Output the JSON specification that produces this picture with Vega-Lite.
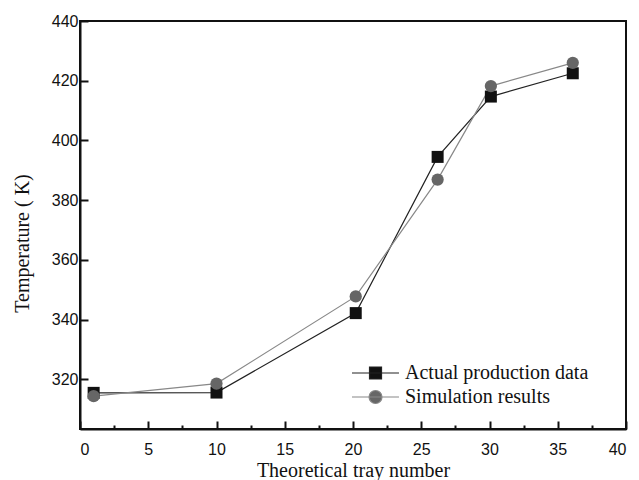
{
  "$schema": "https://vega.github.io/schema/vega-lite/v6.json",
  "width": 546,
  "height": 408,
  "autosize": "none",
  "padding": {"left": 80, "top": 21, "right": 13, "bottom": 51},
  "background": "white",
  "config": {
    "view": {"stroke": "#111", "strokeWidth": 2},
    "axis": {
      "grid": false,
      "domainColor": "#111",
      "domainWidth": 2,
      "tickColor": "#111",
      "tickWidth": 2,
      "labelFont": "Liberation Sans",
      "labelFontSize": 16,
      "labelColor": "#111",
      "titleFont": "Liberation Serif",
      "titleFontSize": 20,
      "titleFontWeight": "normal",
      "titleColor": "#111"
    }
  },
  "data": {
    "values": [
      {"tray": 1, "T": 315.5, "series": "Actual production data"},
      {"tray": 10, "T": 315.6, "series": "Actual production data"},
      {"tray": 20.2, "T": 342.2, "series": "Actual production data"},
      {"tray": 26.2, "T": 394.5, "series": "Actual production data"},
      {"tray": 30.1, "T": 414.7, "series": "Actual production data"},
      {"tray": 36.1, "T": 422.5, "series": "Actual production data"},
      {"tray": 1, "T": 314.4, "series": "Simulation results"},
      {"tray": 10, "T": 318.6, "series": "Simulation results"},
      {"tray": 20.2, "T": 347.8, "series": "Simulation results"},
      {"tray": 26.2, "T": 386.9, "series": "Simulation results"},
      {"tray": 30.1, "T": 418.2, "series": "Simulation results"},
      {"tray": 36.1, "T": 426, "series": "Simulation results"}
    ]
  },
  "resolve": {"axis": {"x": "independent"}},
  "layer": [
    {
      "mark": {"type": "line", "strokeWidth": 1.2},
      "encoding": {
        "x": {
          "field": "tray", "type": "quantitative",
          "scale": {"domain": [0, 40], "nice": false},
          "axis": {
            "orient": "bottom",
            "values": [0, 5, 10, 15, 20, 25, 30, 35, 40],
            "tickSize": -8,
            "labelPadding": 20,
            "title": "Theoretical tray number",
            "titlePadding": 3
          }
        },
        "y": {
          "field": "T", "type": "quantitative",
          "scale": {"domain": [303.4, 440], "nice": false, "zero": false},
          "axis": {
            "values": [320, 340, 360, 380, 400, 420, 440],
            "tickSize": -8,
            "labelPadding": 10,
            "title": "Temperature ( K)",
            "titleY": 222,
            "titlePadding": 19
          }
        },
        "stroke": {
          "field": "series", "type": "nominal",
          "scale": {"domain": ["Actual production data", "Simulation results"], "range": ["#222222", "#888888"]},
          "legend": {
            "orient": "none",
            "legendX": 268,
            "legendY": 342,
            "title": null,
            "padding": 0,
            "symbolSize": 144,
            "symbolStrokeWidth": 1.2,
            "labelFont": "Liberation Serif",
            "labelFontSize": 20,
            "labelColor": "#111",
            "labelOffset": 37,
            "labelLimit": 400,
            "rowPadding": 4,
            "encode": {
              "symbols": {
                "update": {
                  "shape": {"signal": "datum.value === 'Actual production data' ? 'M-1,0H6.83M1.92,-1H3.92V1H1.92Z' : 'M-1,0H6.83M4,0A1.08,1.08 0 1,1 1.84,0A1.08,1.08 0 1,1 4,0Z'"},
                  "fill": {"signal": "datum.value === 'Actual production data' ? '#111111' : '#666666'"},
                  "strokeWidth": {"value": 1.2},
                  "opacity": {"value": 1}
                }
              }
            }
          }
        }
      }
    },
    {
      "transform": [{"filter": "datum.series === 'Actual production data'"}],
      "mark": {"type": "point", "shape": "square", "filled": true, "opacity": 1, "strokeWidth": 0, "size": 144, "color": "#111111"},
      "encoding": {
        "x": {
          "field": "tray", "type": "quantitative",
          "axis": {
            "orient": "bottom",
            "values": [2.5, 7.5, 12.5, 17.5, 22.5, 27.5, 32.5, 37.5],
            "tickSize": -4,
            "labels": false,
            "domain": false,
            "title": null
          }
        },
        "y": {"field": "T", "type": "quantitative"}
      }
    },
    {
      "transform": [{"filter": "datum.series === 'Simulation results'"}],
      "mark": {"type": "point", "shape": "circle", "filled": true, "opacity": 1, "strokeWidth": 0, "size": 150, "color": "#666666"},
      "encoding": {
        "x": {"field": "tray", "type": "quantitative", "axis": null},
        "y": {"field": "T", "type": "quantitative"}
      }
    }
  ]
}
